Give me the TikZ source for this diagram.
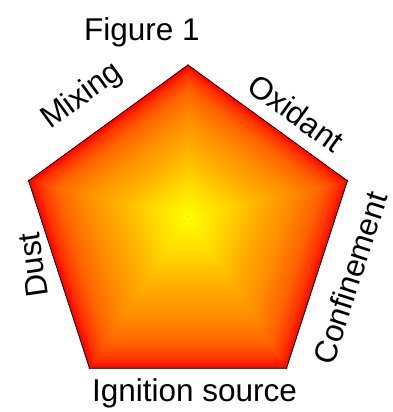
\documentclass[tikz,border=0pt]{standalone}
\usepackage{fontspec}
\setmainfont{Liberation Sans}
\usetikzlibrary{calc}
\pgfdeclareverticalshading{edgeglow}{100bp}{rgb(0bp)=(1,0,0); rgb(25bp)=(1,0,0); rgb(28bp)=(1,0.2,0); rgb(33bp)=(1,0.38,0); rgb(42bp)=(1,0.55,0); rgb(52bp)=(1,0.68,0); rgb(63bp)=(1,0.85,0); rgb(75bp)=(1,1,0); rgb(100bp)=(1,1,0)}
\tikzset{
  lbl/.style={inner sep=0pt, font=\fontsize{31.5}{36}\selectfont},
  rim/.style={draw=black, line width=0.8pt}
}
\begin{document}
\begin{tikzpicture}[x=1pt,y=1pt]
\useasboundingbox (0,0) rectangle (392,412);
\coordinate (O) at (188,179.4);
\coordinate (G) at (188,195.4);
\coordinate (V1) at ($(O)+(90:167.6)$);
\coordinate (V2) at ($(O)+(162:167.6)$);
\coordinate (V3) at ($(O)+(234:167.6)$);
\coordinate (V4) at ($(O)+(306:167.6)$);
\coordinate (V5) at ($(O)+(18:167.6)$);
\fill[orange] (V1)--(V2)--(V3)--(V4)--(V5)--cycle;
\foreach \a in {54,126,198,270,342}{
  \pgfmathsetmacro\dd{135.6-16*sin(\a)}
  \pgfmathsetmacro\fx{188+\dd*cos(\a)}
  \pgfmathsetmacro\fy{195.4+\dd*sin(\a)}
  \pgfmathsetmacro\rr{\a+90}
  \begin{scope}
    \clip (G) -- ($(O)+(\a-36.3:168.5)$) -- ($(O)+(\a+36.3:168.5)$) -- cycle;
    \begin{scope}[transform canvas={shift={(\fx,\fy)},rotate=\rr}]
      \shade[shading=edgeglow] (-260,0) rectangle (260,\dd);
    \end{scope}
  \end{scope}
}
\draw[rim] (V1)--(V2)--(V3)--(V4)--(V5)--cycle;
\node[lbl, anchor=base] (fig) at (142,371) {Figure 1};
\node[lbl, anchor=base] (ign) at (194.5,10.3) {Ignition source};
\node[lbl, anchor=base, rotate=36] (mix) at (87,309) {Mixing};
\node[lbl, rotate=-36] (oxi) at (296,299) {Oxidant};
\node[lbl, rotate=98] (dust) at (33,147) {Dust};
\node[lbl, rotate=72] (conf) at (350,134) {Confinement};
\end{tikzpicture}
\end{document}
